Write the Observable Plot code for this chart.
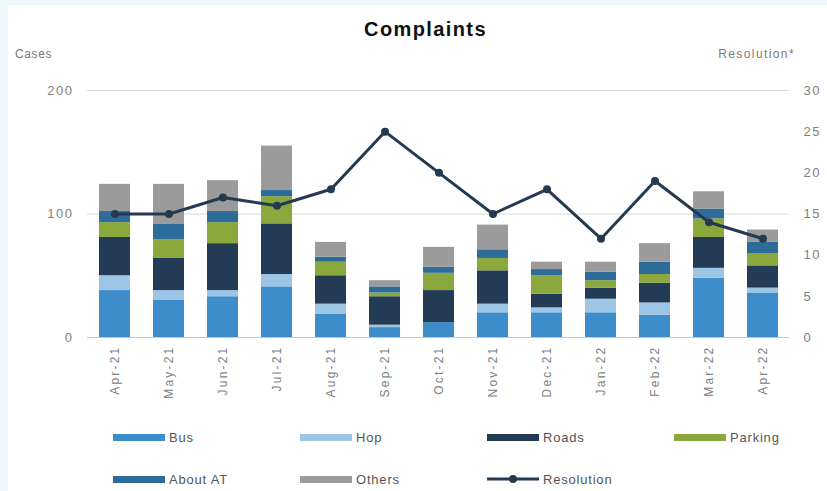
<!DOCTYPE html>
<html>
<head>
<meta charset="utf-8">
<script src="https://cdn.jsdelivr.net/npm/d3@7"></script>
<script src="https://cdn.jsdelivr.net/npm/@observablehq/plot@0.6"></script>
<style>
  html, body { margin: 0; padding: 0; }
  body { width: 827px; height: 491px; overflow: hidden; font-family: "Liberation Sans", Arial, sans-serif; }
  #wrap { position: relative; width: 827px; height: 491px; background: #eef7fa; }
  #panel { position: absolute; left: 8px; top: 5px; width: 819px; height: 486px; background: #ffffff; }
  #title { position: absolute; left: 12px; width: 827px; top: 18px; text-align: center; font-weight: bold; font-size: 20px; letter-spacing: 1.4px; color: #111; }
  .axlab { position: absolute; top: 47px; font-size: 12px; color: #7a7a7a; letter-spacing: 0.6px; }
  #chart { position: absolute; left: 0; top: 45px; }
  #chart svg g[aria-label="y-axis tick label"] text { letter-spacing: 1.5px; }
  #chart svg g[aria-label="x-axis tick label"] text { letter-spacing: 2.2px; }
  .leg { position: absolute; display: flex; align-items: center; font-size: 13px; color: #555; letter-spacing: 0.8px; }
  .sw { width: 52px; height: 7px; margin-right: 4px; }
</style>
</head>
<body>
<div id="wrap">
  <div id="panel"></div>
  <div id="title">Complaints</div>
  <div class="axlab" style="left:15px">Cases</div>
  <div class="axlab" style="right:32px; letter-spacing:1.4px">Resolution*</div>
  <div id="chart"></div>
  <div id="legend"></div>
</div>
<script>
const months = ["Apr-21","May-21","Jun-21","Jul-21","Aug-21","Sep-21","Oct-21","Nov-21","Dec-21","Jan-22","Feb-22","Mar-22","Apr-22"];
const bus        = [38, 30, 33, 41, 19,  8, 12, 20, 20, 20, 18, 48, 36];
const hop        = [12,  8,  5, 10,  8,  2,  0,  7,  4, 11, 10,  8,  4];
const roads      = [31, 26, 38, 41, 23, 23, 26, 27, 11,  9, 16, 25, 18];
const parking    = [12, 15, 17, 22, 11,  3, 14, 10, 15,  6,  7, 15, 10];
const aboutAT    = [ 9, 13,  9,  5,  4,  5,  5,  7,  5,  7, 10,  8,  9];
const others     = [22, 32, 25, 36, 12,  5, 16, 20,  6,  8, 15, 14, 10];
const resolution = [15, 15, 17, 16, 18, 25, 20, 15, 18, 12, 19, 14, 12];

const seriesNames = ["Bus","Hop","Roads","Parking","About AT","Others"];
const seriesValues = [bus, hop, roads, parking, aboutAT, others];
const seriesColors = ["#3c8dca","#9cc5e6","#243b55","#8aa83c","#2d6c98","#9b9b9b"];
const lineColor = "#233a51";
const leftTicks = [0, 100, 200];
const rightTicks = [0, 5, 10, 15, 20, 25, 30];
const leftMax = 200, rightMax = 30;

const rows = [];
months.forEach((m, i) => {
  seriesNames.forEach((s, j) => rows.push({month: m, series: s, value: seriesValues[j][i]}));
});
const resRows = months.map((m, i) => ({month: m, res: resolution[i]}));
const toLeft = v => v * leftMax / rightMax;

const tickStyle = {fontSize: 13, fill: "#808080"};

const chart = Plot.plot({
  width: 827,
  height: 360,
  marginTop: 45,
  marginBottom: 68,
  marginLeft: 87,
  marginRight: 38,
  style: {background: "transparent", fontFamily: "Liberation Sans, Arial, sans-serif", color: "#808080"},
  x: {type: "band", domain: months, paddingInner: 0.43, paddingOuter: 0.215, label: null},
  y: {domain: [0, leftMax], label: null},
  color: {domain: seriesNames, range: seriesColors},
  marks: [
    Plot.gridY(leftTicks.filter(d => d > 0), {stroke: "#d9d9d9", strokeOpacity: 1, strokeWidth: 1}),
    Plot.ruleY([0], {stroke: "#c8c8c8", strokeWidth: 1}),
    Plot.barY(rows, {x: "month", y: "value", fill: "series"}),
    Plot.line(resRows, {x: "month", y: d => toLeft(d.res), stroke: lineColor, strokeWidth: 3}),
    Plot.dot(resRows, {x: "month", y: d => toLeft(d.res), r: 4, fill: lineColor}),
    Plot.axisY(leftTicks, {anchor: "left", tickSize: 0, tickPadding: 14, label: null, ...tickStyle}),
    Plot.axisY(rightTicks.map(toLeft), {anchor: "right", tickSize: 0, tickPadding: 14, label: null, tickFormat: d => Math.round(d * rightMax / leftMax), ...tickStyle}),
    Plot.axisX({tickRotate: -90, tickSize: 0, tickPadding: 8, label: null, fontSize: 12, fill: "#808080"})
  ]
});
document.getElementById("chart").appendChild(chart);

// Legend
const legend = document.getElementById("legend");
const legItems = [
  {name: "Bus", color: seriesColors[0], x: 113, y: 437},
  {name: "Hop", color: seriesColors[1], x: 300, y: 437},
  {name: "Roads", color: seriesColors[2], x: 487, y: 437},
  {name: "Parking", color: seriesColors[3], x: 674, y: 437},
  {name: "About AT", color: seriesColors[4], x: 113, y: 479},
  {name: "Others", color: seriesColors[5], x: 300, y: 479},
  {name: "Resolution", line: true, x: 487, y: 479}
];
legItems.forEach(it => {
  const d = document.createElement("div");
  d.className = "leg";
  d.style.left = it.x + "px";
  d.style.top = (it.y - 9) + "px";
  d.style.height = "18px";
  if (it.line) {
    d.innerHTML = `<svg width="52" height="10" style="margin-right:4px"><line x1="0" x2="52" y1="5" y2="5" stroke="${lineColor}" stroke-width="3"/><circle cx="26" cy="5" r="4" fill="${lineColor}"/></svg><span>${it.name}</span>`;
  } else {
    d.innerHTML = `<div class="sw" style="background:${it.color}"></div><span>${it.name}</span>`;
  }
  legend.appendChild(d);
});
</script>
</body>
</html>
